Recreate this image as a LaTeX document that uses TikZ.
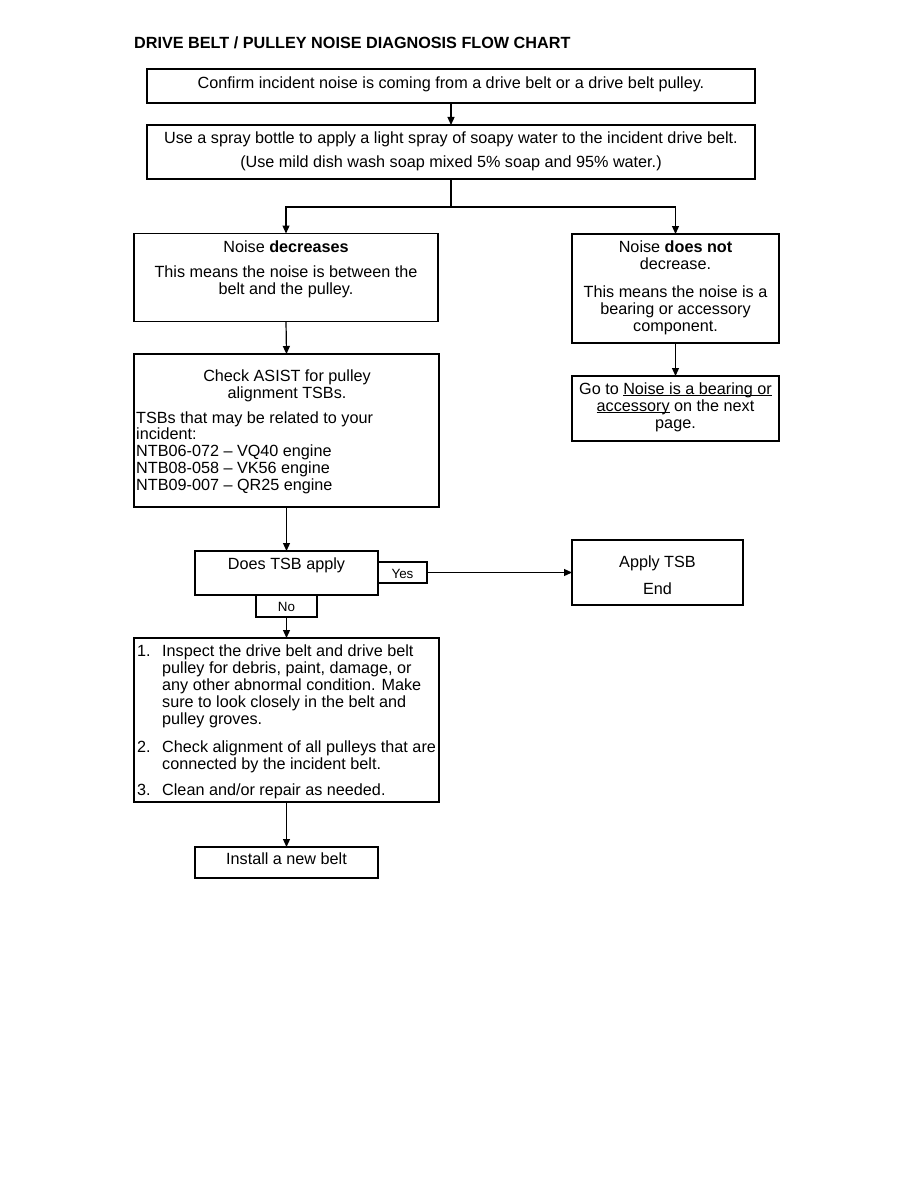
\documentclass[tikz,border=0pt]{standalone}
\usepackage{fontspec}
\setmainfont{Liberation Sans}
\usetikzlibrary{arrows.meta}
\newcommand\myul[1]{\setbox0\hbox{#1}\rlap{\rule[-2.2pt]{\wd0}{0.9pt}}\box0\relax}
\begin{document}
\begin{tikzpicture}[x=1pt,y=-1pt,
  box/.style={draw,line width=1.2pt,inner sep=0pt,outer sep=0pt},
  txt/.style={inner sep=0pt,font=\fontsize{16.2}{17}\selectfont},
  small/.style={inner sep=0pt,font=\fontsize{13.4}{15}\selectfont},
  arr/.style={line width=1.2pt,-{Triangle[length=8pt,width=7pt]}},
  ln/.style={line width=1.2pt}]
\useasboundingbox (0,0) rectangle (918,1188);
% title
\node[anchor=base west,inner sep=0pt,font=\fontsize{16.2}{17}\selectfont\bfseries] (title) at (134,49) {DRIVE BELT / PULLEY NOISE DIAGNOSIS FLOW CHART};
% boxes
\node[box,minimum width=608pt,minimum height=34pt] (b1) at (451,86) {};
\node[box,minimum width=608pt,minimum height=54pt] (b2) at (451,152) {};
\node[box,minimum width=304pt,minimum height=88pt] (b3) at (286,277.5) {};
\node[box,minimum width=207pt,minimum height=109pt] (b4) at (675.5,288.5) {};
\node[box,minimum width=207pt,minimum height=65pt] (b5) at (675.5,408.5) {};
\node[box,minimum width=305pt,minimum height=153pt] (b6) at (286.5,430.5) {};
\node[box,minimum width=183pt,minimum height=44pt] (b7) at (286.5,573) {};
\node[box,minimum width=49pt,minimum height=21pt] (yes) at (402.5,572.5) {};
\node[box,minimum width=61pt,minimum height=22pt] (no) at (286.5,606) {};
\node[box,minimum width=171pt,minimum height=65pt] (b10) at (657.5,572.5) {};
\node[box,minimum width=305pt,minimum height=164pt] (b8) at (286.5,720) {};
\node[box,minimum width=183pt,minimum height=31pt] (b9) at (286.5,862.5) {};
% texts
\node[txt,anchor=base] (t1) at (451,89) {Confirm incident noise is coming from a drive belt or a drive belt pulley.};
\node[txt,anchor=base] (t2a) at (451,143) {Use a spray bottle to apply a light spray of soapy water to the incident drive belt.};
\node[txt,anchor=base] (t2b) at (451,167) {(Use mild dish wash soap mixed 5\% soap and 95\% water.)};
\node[txt,anchor=base] (t3a) at (286,252) {Noise \textbf{decreases}};
\node[txt,anchor=base,align=center] (t3b) at (286,294) {This means the noise is between the\\belt and the pulley.};
\node[txt,anchor=base,align=center] (t4a) at (675.5,269) {Noise \textbf{does not}\\decrease.};
\node[txt,anchor=base,align=center] (t4b) at (675.5,331) {This means the noise is a\\bearing or accessory\\component.};
\node[txt,anchor=base,align=center] (t5) at (675.5,428) {Go to \myul{Noise is a bearing or}\\\myul{accessory} on the next\\page.};
\node[txt,anchor=base,align=center] (t6a) at (287,398) {Check ASIST for pulley\\alignment TSBs.};
\node[txt,anchor=base west,align=left,font=\fontsize{16.2}{16.75}\selectfont] (t6b) at (136,490) {TSBs that may be related to your\\incident:\\NTB06-072 -- VQ40 engine\\NTB08-058 -- VK56 engine\\NTB09-007 -- QR25 engine};
\node[txt,anchor=base] (t7) at (286.5,569) {Does TSB apply};
\node[small,anchor=base] (tyes) at (402.5,578) {Yes};
\node[small,anchor=base] (tno) at (286.5,611) {No};
\node[txt,anchor=base] (t10a) at (657.5,567) {Apply TSB};
\node[txt,anchor=base] (t10b) at (657.5,594) {End};
\node[txt,anchor=base west] (n1) at (137,656) {1.};
\node[txt,anchor=base west,align=left] (i1) at (162,724) {Inspect the drive belt and drive belt\\pulley for debris, paint, damage, or\\any other abnormal condition. Make\\sure to look closely in the belt and\\pulley groves.};
\node[txt,anchor=base west] (n2) at (137,752) {2.};
\node[txt,anchor=base west,align=left] (i2) at (162,769) {Check alignment of all pulleys that are\\connected by the incident belt.};
\node[txt,anchor=base west] (n3) at (137,795) {3.};
\node[txt,anchor=base west] (i3) at (162,795) {Clean and/or repair as needed.};
\node[txt,anchor=base] (t9) at (286.5,864) {Install a new belt};
% connectors
\draw[arr] (b1.south) -- (b2.north);
\coordinate (split) at (451,207);
\draw[ln] (b2.south) -- (split);
\draw[arr] (split) -| (b3.north);
\draw[arr] (split) -| (b4.north);
\draw[arr] (b3.south) -- (b6.north);
\draw[arr] (b4.south) -- (b5.north);
\draw[arr] (b6.south) -- (b7.north);
\draw[arr] (yes.east) -- (b10.west);
\draw[arr] (no.south) -- (b8.north);
\draw[arr] (b8.south) -- (b9.north);
\end{tikzpicture}
\end{document}
